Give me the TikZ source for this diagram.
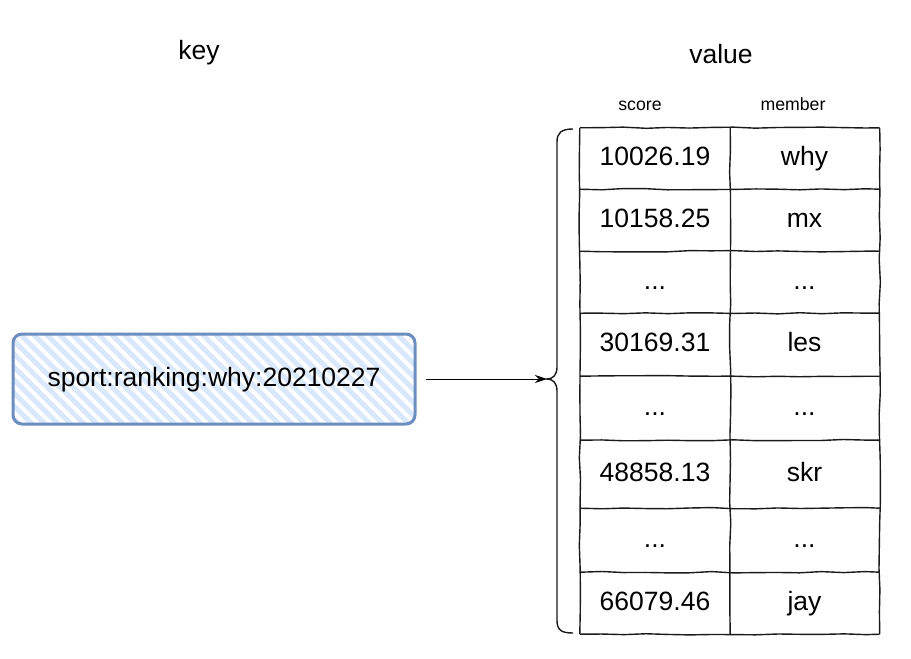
\documentclass[tikz,border=0pt]{standalone}
\usepackage{fontspec}
\setmainfont{Liberation Sans}
\usetikzlibrary{arrows.meta,decorations.pathmorphing}
\definecolor{keyblue}{HTML}{6C8EBF}
\definecolor{keyfill}{HTML}{DAE8FC}
\definecolor{ink}{HTML}{1A1A1A}
\newcommand{\mydots}{...}
\begin{document}
\begin{tikzpicture}[x=1pt,y=-1pt,
  big/.style={font=\fontsize{26.5}{30}\selectfont, text height=19pt, text depth=5pt},
  small/.style={font=\fontsize{17.7}{20}\selectfont, text height=12.5pt, text depth=3.5pt},
  cell/.style={minimum width=150pt, inner sep=0pt, big},
  sketch/.style={draw=ink, line width=1.4pt, decorate,
    decoration={random steps, segment length=22pt, amplitude=0.7pt}},
  keystyle/.style={draw=keyblue, line width=3pt, rounded corners=9pt,
    minimum width=402pt, minimum height=90pt, inner sep=0pt, big,
    path picture={\foreach \i in {-110,-97,...,430}{
      \draw[keyfill, line width=5pt]
        ([xshift=\i pt]path picture bounding box.north west) -- ++(100,100);}}},
  link/.style={-{Stealth[length=12pt,width=8pt]}, line width=1pt, draw=black}
]
\useasboundingbox (0,0) rectangle (911,659);

% titles
\node[big] (keytitle) at (199,52) {key};
\node[big] (valuetitle) at (721,56) {value};
\node[small] (scorehead) at (640,106) {score};
\node[small] (memberhead) at (793,106) {member};

% key box
\node[keystyle] (keybox) at (214,379) {sport:ranking:why:20210227};

% table cells
\foreach \s/\m/\ya/\yb [count=\r from 0] in {
  10026.19/why/128/189, 10158.25/mx/189/251, \mydots/\mydots/251/313,
  30169.31/les/313/376, \mydots/\mydots/376/440, 48858.13/skr/440/508,
  \mydots/\mydots/508/572, 66079.46/jay/572/634}{
  \node[cell, minimum height={\yb-\ya}] (s\r) at (655, {(\ya+\yb)/2}) {\s};
  \node[cell, minimum height={\yb-\ya}] (m\r) at (804.5, {(\ya+\yb)/2}) {\m};
}

% grid lines
\draw[sketch] (s0.north west) -- (m0.north east);
\foreach \r in {0,...,7}{
  \draw[sketch] (s\r.south west) -- (m\r.south east);
}
\draw[sketch] (s0.north west) -- (s7.south west);
\draw[sketch] (s0.north east) -- (s7.south east);
\draw[sketch] (m0.north east) -- (m7.south east);

% brace
\coordinate (bracetop) at (573,129);
\coordinate (bracebot) at (573,633);
\coordinate (bracetip) at (547,379);
\draw[draw=ink, line width=1.4pt]
  (bracetop) .. controls (561,129) and (557,133) .. (557,142)
  -- (557,367) .. controls (557,375) and (553,379) .. (bracetip)
  .. controls (553,379) and (557,383) .. (557,391)
  -- (557,620) .. controls (557,630) and (561,633) .. (bracebot);

% connector
\draw[link] ([xshift=9pt]keybox.east) -- (bracetip);
\end{tikzpicture}
\end{document}
